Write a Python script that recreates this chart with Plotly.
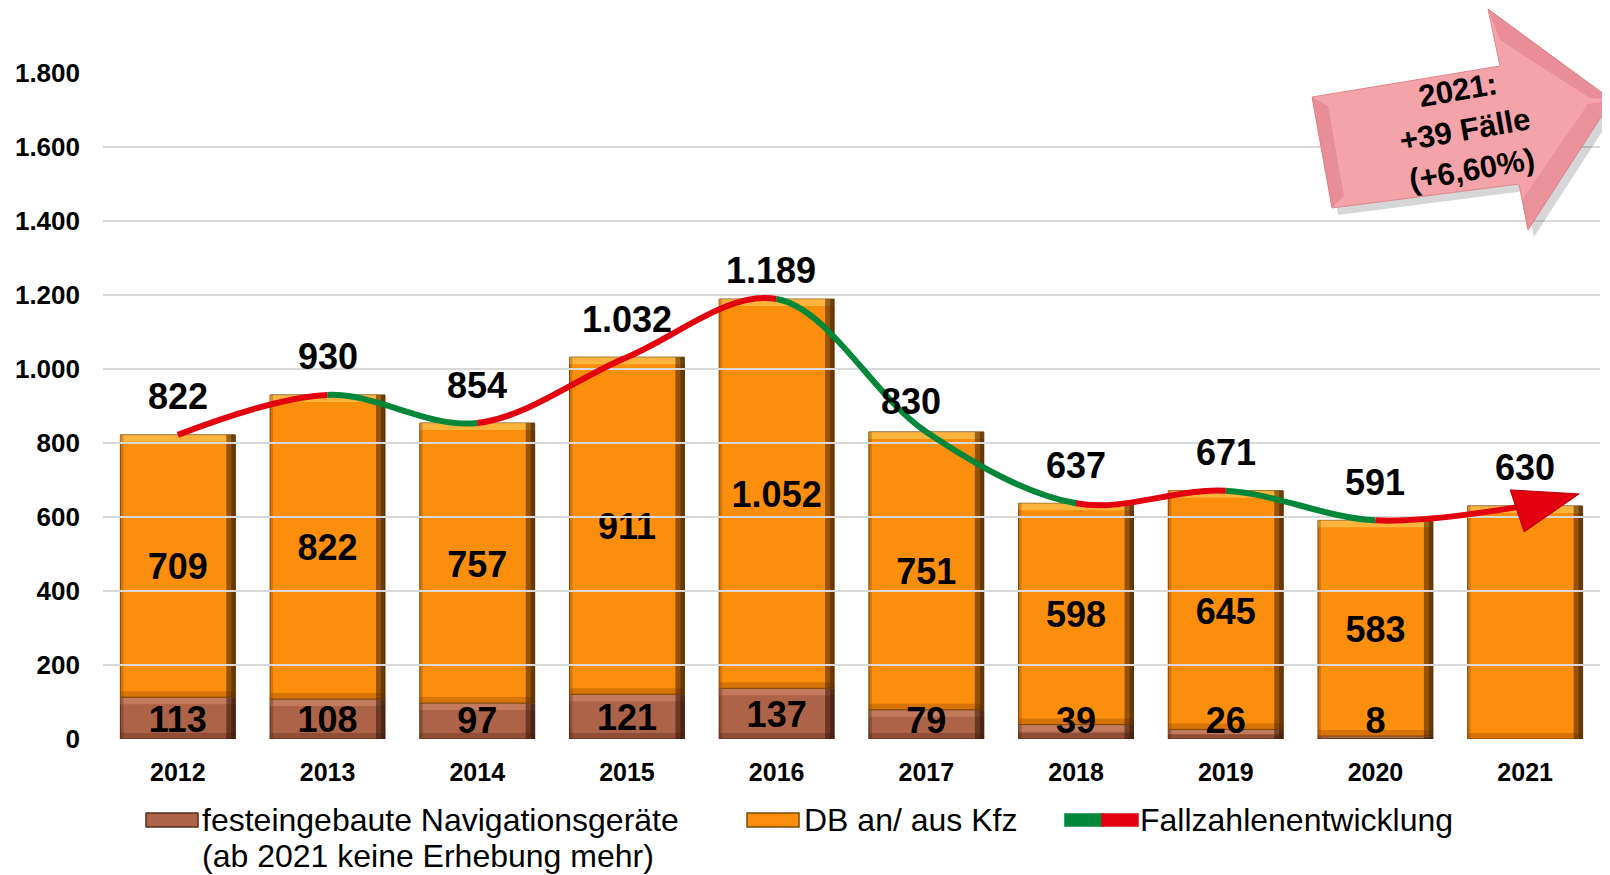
import plotly.graph_objects as go

# ---------------- data ----------------
years = ["2012", "2013", "2014", "2015", "2016", "2017", "2018", "2019", "2020", "2021"]
nav_devices = [113, 108, 97, 121, 137, 79, 39, 26, 8, None]      # festeingebaute Navigationsgeräte
db_kfz = [709, 822, 757, 911, 1052, 751, 598, 645, 583, 630]       # DB an/ aus Kfz
totals = [822, 930, 854, 1032, 1189, 830, 637, 671, 591, 630]     # Fallzahlen
y_ticks = [0, 200, 400, 600, 800, 1000, 1200, 1400, 1600, 1800]
callout_lines = ["2021:", "+39 Fälle", "(+6,60%)"]
legend_nav = ["festeingebaute Navigationsgeräte", "(ab 2021 keine Erhebung mehr)"]
legend_db = "DB an/ aus Kfz"
legend_line = "Fallzahlenentwicklung"

# ---------------- style ----------------
W, H = 1610, 875
OFF = 8                                   # page body margin
ML, MT, PW, PH = 103 - OFF, 73 - OFF, 1497, 666
MR, MB = W - ML - PW, H - MT - PH
Y0_REF = 739                              # zero line in page pixels
YMAX = 1800
K = PH / YMAX                             # px per unit
n = len(years)
UX = PW / n                               # px per category
BW = 0.768                                # bar width (category units)
FONT = "Arial, Liberation Sans, sans-serif"
C_NAV, C_NAV_LINE = "#AD6347", "#5A2C1A"
C_DB, C_DB_LINE = "#FB8E0C", "#7A4808"
C_RED, C_GREEN = "#E3000F", "#00873A"
LABEL_NUDGE = {4: (-6, -9), 5: (-15, -8)}  # small total-label offsets (px) as in the original
TEXT_DROP = 12                              # units; centres inner labels like the original
NAV_LABEL_MIN = 52


def de(v):
    return f"{v:,}".replace(",", ".")


def px(xp, yp):
    """page pixel -> paper fraction"""
    return (xp - OFF - ML) / PW, (Y0_REF - yp) / PH


xs = list(range(n))
nav0 = [v if v is not None else 0 for v in nav_devices]

fig = go.Figure()

# ---- bars (overlay with explicit bases) ----
segments = [
    (nav0, [0] * n, C_NAV, C_NAV_LINE, "rgba(225,150,120,0.45)", "rgba(55,22,8,0.55)", "rgba(90,40,20,0.35)"),
    (db_kfz, nav0, C_DB, C_DB_LINE, "rgba(255,205,95,0.6)", "rgba(70,35,0,0.55)", "rgba(150,70,0,0.35)"),
]
for vals, base, col, lcol, hi_c, dark_c, bot_c in segments:
    fig.add_bar(x=xs, y=vals, base=base, width=BW, marker=dict(color=col, line=dict(color=lcol, width=1)),
                hoverinfo="skip")
    tops = [b + v for b, v in zip(base, vals)]
    hmin = [min(7 / K, v / 2) for v in vals]
    # top highlight bevel
    fig.add_bar(x=xs, y=hmin, base=[t - h for t, h in zip(tops, hmin)], width=BW,
                marker=dict(color=hi_c, line=dict(width=0)), hoverinfo="skip")
    # bottom shade bevel
    fig.add_bar(x=xs, y=[min(6 / K, v / 2) for v in vals], base=base, width=BW,
                marker=dict(color=bot_c, line=dict(width=0)), hoverinfo="skip")
    # right dark edge (two steps)
    for wpx, c in [(9, dark_c), (4, dark_c)]:
        fig.add_bar(x=xs, y=vals, base=base, width=wpx / UX, offset=BW / 2 - wpx / UX,
                    marker=dict(color=c, line=dict(width=0)), hoverinfo="skip")
    # left slight shade
    fig.add_bar(x=xs, y=vals, base=base, width=3 / UX, offset=-BW / 2,
                marker=dict(color=bot_c, line=dict(width=0)), hoverinfo="skip")

# ---- inner labels ----
nav_x = [i for i in xs if nav_devices[i] is not None]
lab_font = dict(family=FONT, size=36, color="black", weight="bold")
fig.add_scatter(x=nav_x, y=[max(nav_devices[i] / 2, NAV_LABEL_MIN) - TEXT_DROP for i in nav_x],
                text=[de(nav_devices[i]) for i in nav_x], mode="text", textfont=lab_font,
                hoverinfo="skip")
fig.add_scatter(x=nav_x, y=[nav_devices[i] + db_kfz[i] / 2 - TEXT_DROP for i in nav_x],
                text=[de(db_kfz[i]) for i in nav_x], mode="text", textfont=lab_font,
                hoverinfo="skip")

# ---- trend line: coloured runs (red = rise, green = fall), each clipped to its x-span ----
seg_up = [totals[i + 1] > totals[i] for i in range(n - 1)]
runs = []
start = 0
for i in range(1, n - 1):
    if seg_up[i] != seg_up[i - 1]:
        runs.append((start, i, seg_up[i - 1]))
        start = i
runs.append((start, n - 1, seg_up[-1]))

axes_layout = {}
for k, (a, b, up) in enumerate(runs, start=2):
    lo = -0.5 if a == 0 else a
    hi = n - 0.5 if b == n - 1 else b
    axes_layout[f"xaxis{k}"] = dict(domain=[(lo + 0.5) / n, (hi + 0.5) / n], range=[lo, hi],
                                    visible=False, anchor="y", fixedrange=True, automargin=False)
    fig.add_scatter(x=xs, y=totals, xaxis=f"x{k}", yaxis="y", mode="lines",
                    line=dict(color=C_RED if up else C_GREEN, width=6, shape="spline",
                              smoothing=1.0, simplify=False),
                    hoverinfo="skip")

# arrow head at the end of the trend line
fig.add_shape(type="path", xref="x", yref="y", xsizemode="pixel", ysizemode="pixel",
              xanchor=n - 1, yanchor=totals[-1],
              path="M-15,16 L54,12 L-1,-26 Z", fillcolor=C_RED, line=dict(color="#B0000A", width=1))

# ---- total labels ----
for i, t in enumerate(totals):
    dx, dy = LABEL_NUDGE.get(i, (0, 0))
    fig.add_annotation(x=i, y=t, text=de(t), showarrow=False, xshift=dx, yshift=38 + dy,
                       yanchor="middle", font=lab_font)

# ---- callout arrow (top right) ----
arrow_pts = [(1312, 97), (1500, 66), (1488, 9), (1612, 100), (1528, 230), (1519, 184), (1332, 208)]


def poly(points, off=(0, 0)):
    s = ""
    for j, (a, b) in enumerate(points):
        xp, yp = px(a + off[0], b + off[1])
        s += ("M" if j == 0 else "L") + f"{xp:.5f},{yp:.5f} "
    return s + "Z"


fig.add_shape(type="path", xref="paper", yref="paper", path=poly(arrow_pts, (6, 7)),
              fillcolor="rgba(0,0,0,0.16)", line=dict(width=0))
fig.add_shape(type="path", xref="paper", yref="paper", path=poly(arrow_pts),
              fillcolor="#F4A3A9", line=dict(color="#DE8790", width=1))
# darker facets for a bevelled look
fig.add_shape(type="path", xref="paper", yref="paper",
              path=poly([(1488, 9), (1612, 100), (1590, 98), (1500, 40)]),
              fillcolor="rgba(200,80,95,0.25)", line=dict(width=0))
fig.add_shape(type="path", xref="paper", yref="paper",
              path=poly([(1528, 230), (1612, 100), (1588, 104), (1522, 200)]),
              fillcolor="rgba(200,80,95,0.22)", line=dict(width=0))
fig.add_shape(type="path", xref="paper", yref="paper",
              path=poly([(1312, 97), (1332, 208), (1344, 196), (1328, 106)]),
              fillcolor="rgba(200,80,95,0.25)", line=dict(width=0))
cx, cy = px(1465, 130)
fig.add_annotation(xref="paper", yref="paper", x=cx, y=cy, text="<br>".join(callout_lines),
                   showarrow=False, textangle=-10, xanchor="center", yanchor="middle",
                   font=dict(family=FONT, size=31, color="black", weight="bold"))


# ---- manual legend ----
def rect(x0, y0, x1, y1, fill, line):
    a, b = px(x0, y0)
    c, d = px(x1, y1)
    fig.add_shape(type="rect", xref="paper", yref="paper", x0=a, y0=b, x1=c, y1=d,
                  fillcolor=fill, line=dict(color=line, width=1.5))


rect(146, 813, 198, 827, C_NAV, C_NAV_LINE)
rect(747, 813, 799, 827, C_DB, C_DB_LINE)
rect(1065, 814, 1102, 826, C_GREEN, C_GREEN)
rect(1102, 814, 1138, 826, C_RED, C_RED)
for txt, (lx, ly) in [(legend_nav[0], (200, 820)), (legend_nav[1], (200, 856)),
                      (legend_db, (802, 820)), (legend_line, (1138, 820))]:
    a, b = px(lx, ly)
    fig.add_annotation(xref="paper", yref="paper", x=a, y=b, text=txt, showarrow=False,
                       xanchor="left", yanchor="middle", font=dict(family=FONT, size=32, color="black"))

fig.update_layout(
    width=W, height=H, margin=dict(l=ML, r=MR, t=MT, b=MB, autoexpand=False),
    barmode="overlay", showlegend=False,
    paper_bgcolor="white", plot_bgcolor="rgba(0,0,0,0)",
    xaxis=dict(range=[-0.5, n - 0.5], tickvals=xs, ticktext=years, showgrid=False, zeroline=False,
               showline=False, ticks="", ticklabelstandoff=16, fixedrange=True, automargin=False,
               tickfont=dict(family=FONT, size=25, color="black", weight="bold")),
    yaxis=dict(range=[0, YMAX], tickvals=y_ticks, ticktext=[de(v) for v in y_ticks],
               showgrid=True, gridcolor="#D9D9D9", gridwidth=2, zeroline=False, showline=False,
               ticks="", ticklabelstandoff=22, fixedrange=True, automargin=False,
               tickfont=dict(family=FONT, size=26, color="black", weight="bold")),
    **axes_layout,
)

fig.write_html("out.html")
